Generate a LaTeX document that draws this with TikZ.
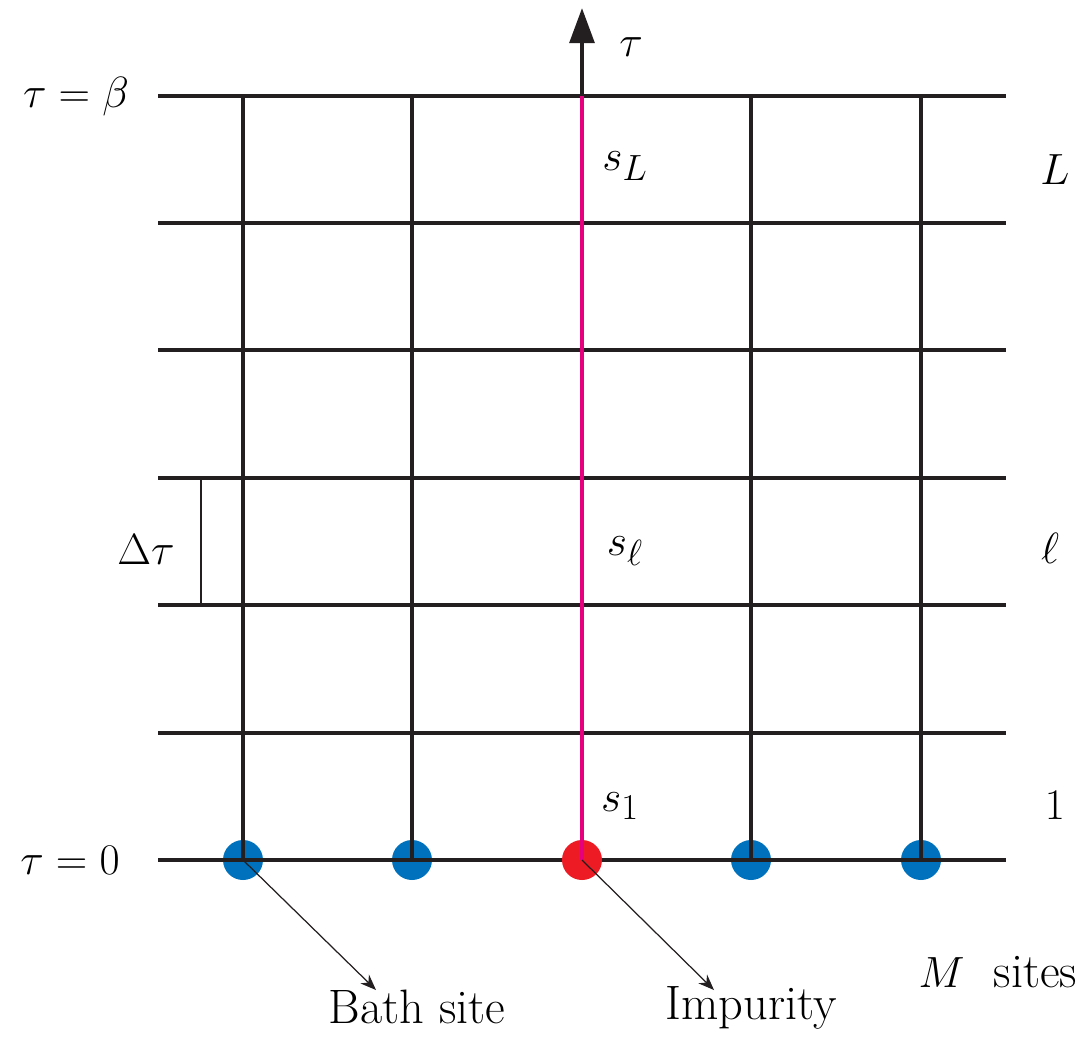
\documentclass[tikz,border=0pt]{standalone}
\usetikzlibrary{arrows.meta}
\definecolor{bathblue}{RGB}{0,114,189}
\definecolor{impred}{RGB}{237,28,36}
\definecolor{impmag}{RGB}{230,0,126}
\definecolor{lineblack}{RGB}{35,31,32}
\begin{document}
\begin{tikzpicture}[x=0.02cm,y=-0.02cm,
  gridline/.style={line width=2.5pt,draw=lineblack},
  thinline/.style={line width=0.7pt,draw=lineblack},
  pointer/.style={line width=0.7pt,draw=lineblack,-{Stealth[length=9pt,width=7pt]}},
  lbl/.style={font=\fontsize{27.5}{32}\selectfont,inner sep=0pt},
  bathdot/.style={circle,fill=bathblue,minimum size=0.8cm,inner sep=0pt},
  impdot/.style={circle,fill=impred,minimum size=0.8cm,inner sep=0pt}]
\useasboundingbox (0,0) rectangle (1083,1036);
% horizontal lines
\foreach \y/\n in {96/7,223/6,350/5,478/4,605/3,733/2,860/1}{
  \coordinate (hl\n) at (158,\y);
  \coordinate (hr\n) at (1006,\y);
}
% bath dots (under the lines)
\node[bathdot] (b1) at (243,860) {};
\node[bathdot] (b2) at (412,860) {};
\node[bathdot] (b4) at (751,860) {};
\node[bathdot] (b5) at (921,860) {};
\foreach \n in {1,...,7}{\draw[gridline] (hl\n) -- (hr\n);}
% vertical lines
\foreach \x/\n in {243/1,412/2,751/4,921/5}{
  \coordinate (vt\n) at (\x,96);
  \coordinate (vb\n) at (\x,860);
  \draw[gridline] (vt\n) -- (vb\n);
}
\coordinate (vt3) at (582,96);
\coordinate (vb3) at (582,860);
\coordinate (axtop) at (582,8);
\draw[line width=2.5pt,draw=lineblack,-{Triangle[length=20pt,width=14pt]}] (vt3) -- (axtop);
\node[impdot] (imp) at (vb3) {};
\draw[line width=2.5pt,draw=impmag] (vt3) -- (imp.center);
% delta tau bar
\coordinate (dt1) at (201,478);
\coordinate (dt2) at (201,605);
\draw[thinline] (dt1) -- (dt2);
% labels
\node[lbl] (tau) at (631,47) {$\tau$};
\node[lbl] (taubeta) at (76,97) {$\tau=\beta$};
\node[lbl] (tau0) at (70,860) {$\tau=0$};
\node[lbl] (sL) at (625,166) {$s_L$};
\node[lbl] (sl) at (625,551) {$s_\ell$};
\node[lbl] (s1) at (620,806) {$s_1$};
\node[lbl] (L) at (1055,170) {$L$};
\node[lbl] (ell) at (1050,548) {$\ell$};
\node[lbl] (one) at (1055,805) {$1$};
\node[lbl] (dtau) at (146,550) {$\Delta\tau$};
\node[lbl] (msites) at (998,972) {$M$\ \ sites};
\node[lbl,anchor=north] (bath) at (417,990) {Bath site};
\node[lbl,anchor=north] (impl) at (751,986) {Impurity};
% pointers
\coordinate (bt) at (376,990);
\coordinate (it) at (714,990);
\draw[pointer] (b1.center) -- (bt);
\draw[pointer] (imp.center) -- (it);
\end{tikzpicture}
\end{document}
